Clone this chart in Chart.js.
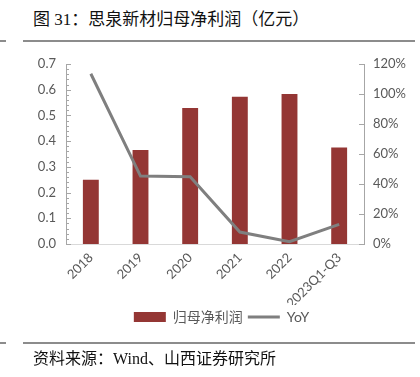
<!DOCTYPE html>
<html>
<head>
<meta charset="utf-8">
<script src="https://cdn.jsdelivr.net/npm/chart.js@4"></script>
<style>
  html, body { margin: 0; padding: 0; background: #fff; }
  body { width: 420px; height: 377px; position: relative; overflow: hidden; }
  #wrap { position: absolute; left: 0; top: 0; width: 420px; height: 377px; }
  .title { position: absolute; left: 33px; top: 8px; font-family: "Liberation Serif", "Noto Sans CJK SC", serif; font-size: 17px; color: #111; white-space: nowrap; line-height: 24px; }
  .source { position: absolute; left: 33px; top: 348px; font-family: "Liberation Serif", "Noto Sans CJK SC", serif; font-size: 16px; color: #111; white-space: nowrap; line-height: 21px; }
  .rule { position: absolute; height: 2px; background: #8c8c8c; }
</style>
</head>
<body>
<div class="title">图 31：思泉新材归母净利润（亿元）</div>
<div class="rule" style="left:0;width:6px;top:40px;"></div>
<div class="rule" style="left:23px;width:392px;top:40px;"></div>
<div id="wrap"><canvas id="c" width="420" height="377"></canvas></div>
<div class="rule" style="left:0;width:6px;top:342px;"></div>
<div class="rule" style="left:23px;width:392px;top:342px;"></div>
<div class="source">资料来源：Wind、山西证券研究所</div>
<script>
const categories = ['2018', '2019', '2020', '2021', '2022', '2023Q1-Q3'];
const netProfit = [0.25, 0.366, 0.529, 0.573, 0.583, 0.375];
const yoyPct = [113.5, 45.3, 44.9, 8.0, 1.6, 13.1];
const leftTicks = { min: 0, max: 0.7, minorStep: 0.02, majorStep: 0.1 };
const rightTicks = { min: 0, max: 120, step: 20 };

const axisColor = '#a6a6a6';
const textColor = '#595959';
const labelFont = { family: 'Lato, "Open Sans", sans-serif', size: 13 };

const innerTicks = {
  id: 'innerTicks',
  afterDatasetsDraw(chart) {
    const ctx = chart.ctx;
    ctx.save();
    ctx.strokeStyle = axisColor;
    ctx.lineWidth = 1;
    const yl = chart.scales.y;
    yl.ticks.forEach(t => {
      const y = Math.round(yl.getPixelForValue(t.value)) + 0.5;
      const major = Math.abs(t.value * 10 - Math.round(t.value * 10)) < 1e-6;
      ctx.beginPath();
      ctx.moveTo(yl.right, y);
      ctx.lineTo(yl.right + (major ? 5 : 3), y);
      ctx.stroke();
    });
    const yr = chart.scales.y1;
    yr.ticks.forEach(t => {
      const y = Math.round(yr.getPixelForValue(t.value)) + 0.5;
      ctx.beginPath();
      ctx.moveTo(yr.left, y);
      ctx.lineTo(yr.left - 5, y);
      ctx.stroke();
    });
    ctx.restore();
  }
};

new Chart(document.getElementById('c'), {
  type: 'bar',
  data: {
    labels: categories,
    datasets: [
      {
        type: 'line',
        label: 'YoY',
        data: yoyPct,
        yAxisID: 'y1',
        borderColor: '#7f7f7f',
        backgroundColor: '#7f7f7f',
        borderWidth: 3,
        pointRadius: 0,
        tension: 0,
        pointStyle: 'line'
      },
      {
        type: 'bar',
        label: '归母净利润',
        data: netProfit,
        yAxisID: 'y',
        backgroundColor: '#943634',
        borderWidth: 0,
        barPercentage: 0.32,
        categoryPercentage: 1,
        pointStyle: 'rect'
      }
    ]
  },
  options: {
    responsive: false,
    animation: false,
    events: [],
    layout: { padding: { left: 23, right: 0, top: 64, bottom: 43 } },
    plugins: {
      tooltip: { enabled: false },
      legend: {
        position: 'bottom',
        labels: {
          usePointStyle: true,
          pointStyleWidth: 32,
          boxHeight: 10,
          padding: 5,
          color: textColor,
          font: { family: 'Lato, "Noto Sans CJK SC", sans-serif', size: 14 },
          sort: (a, b) => b.datasetIndex - a.datasetIndex
        }
      }
    },
    scales: {
      x: {
        grid: { display: false, drawTicks: false },
        border: { display: true, color: '#d9d9d9', width: 1 },
        ticks: {
          color: textColor,
          font: labelFont,
          minRotation: 45,
          maxRotation: 45,
          padding: 6,
          autoSkip: false
        },
        afterFit: s => { s.height = 61; }
      },
      y: {
        position: 'left',
        min: leftTicks.min,
        max: leftTicks.max,
        grid: { display: false, drawTicks: false },
        border: { display: true, color: axisColor, width: 1 },
        ticks: {
          stepSize: leftTicks.minorStep,
          autoSkip: false,
          color: textColor,
          font: labelFont,
          padding: 10,
          callback: v => (Math.abs(v * 10 - Math.round(v * 10)) < 1e-6 ? v.toFixed(1) : '')
        },
        afterFit: s => { s.width = 43; }
      },
      y1: {
        position: 'right',
        min: rightTicks.min,
        max: rightTicks.max,
        grid: { display: false, drawTicks: false },
        border: { display: true, color: axisColor, width: 1 },
        ticks: {
          stepSize: rightTicks.step,
          color: textColor,
          font: labelFont,
          padding: 9,
          callback: v => v + '%'
        },
        afterFit: s => { s.width = 56; }
      }
    }
  },
  plugins: [innerTicks]
});
</script>
</body>
</html>
